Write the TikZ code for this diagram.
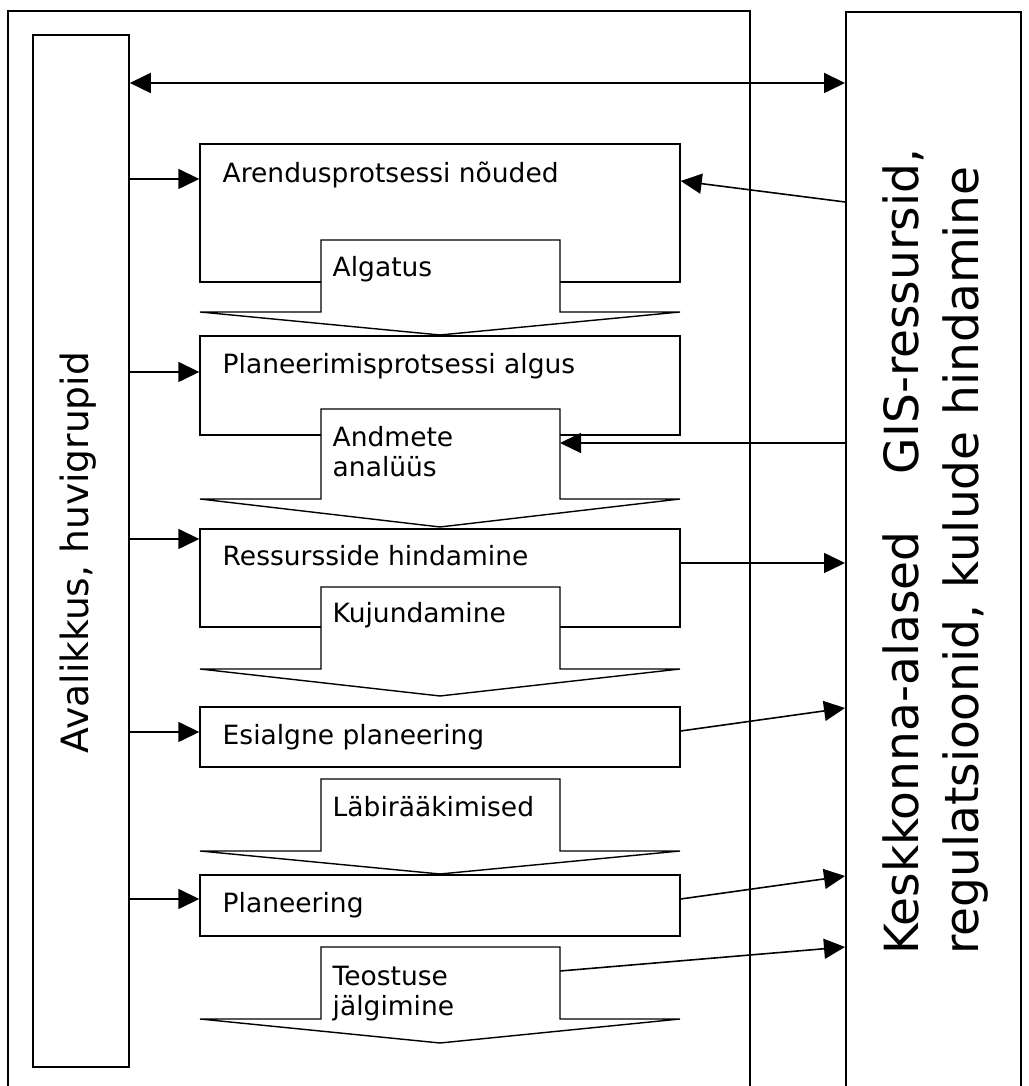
\documentclass[tikz,border=0pt]{standalone}
\usepackage{fontspec}
\setmainfont{DejaVu Sans}
\usetikzlibrary{arrows.meta}

\begin{document}
\begin{tikzpicture}[
  every node/.style={font=\fontsize{7.54}{8.8}\selectfont},
  framebox/.style={draw=black,line width=0.45pt},
  sidebox/.style={rectangle,draw=black,line width=0.45pt,fill=white,inner sep=0pt},
  procbox/.style={rectangle,draw=black,line width=0.4pt,fill=white,minimum width=4.8cm,inner sep=0pt},
  stepshape/.style={draw=black,line width=0.4pt,fill=white},
  boxtext/.style={anchor=base west,inner sep=0pt,align=left},
  fwdarrow/.style={-{Triangle[length=0.21cm,width=0.2cm]},line width=0.45pt},
  botharrow/.style={{Triangle[length=0.21cm,width=0.2cm]}-{Triangle[length=0.21cm,width=0.2cm]},line width=0.5pt},
]

% ---------- Page ----------
\clip (0,0) rectangle (10.29,10.86);

% ---------- Frames ----------
\draw[framebox] (0.08,-0.5) rectangle (7.50,10.75);
\node[sidebox,anchor=north west,minimum width=1.75cm,minimum height=11.2cm] (env) at (8.45,10.75) {};
\node[sidebox,minimum width=0.96cm,minimum height=10.32cm] (pub) at (0.81,5.35) {};

\node[inner sep=0pt,rotate=90,font=\fontsize{10.7}{13}\selectfont] (pubtext) at (0.78,5.335) {Avalikkus, huvigrupid};
\node[inner sep=0pt,rotate=90,text width=8.06cm,align=left,font=\fontsize{13.4}{17}\selectfont] (envtext) at (9.356,5.34)
  {Keskkonna-alased\hfill GIS-ressursid,\\regulatsioonid, kulude hindamine};

% ---------- Process boxes ----------
\node[procbox,minimum height=1.38cm] (b1) at (4.40,8.73) {};
\node[procbox,minimum height=0.99cm] (b2) at (4.40,7.005) {};
\node[procbox,minimum height=0.98cm] (b3) at (4.40,5.08) {};
\node[procbox,minimum height=0.60cm] (b4) at (4.40,3.49) {};
\node[procbox,minimum height=0.61cm] (b5) at (4.40,1.805) {};

% ---------- Step arrows ----------
\foreach \ytop/\ybot/\ytip in {8.46/7.74/7.51, 6.77/5.87/5.59, 4.99/4.17/3.90, 3.07/2.35/2.12, 1.39/0.67/0.43}
  \draw[stepshape] (3.21,\ytop) -- (5.60,\ytop) -- (5.60,\ybot) -- (6.80,\ybot) -- (4.40,\ytip) -- (2.00,\ybot) -- (3.21,\ybot) -- cycle;

% ---------- Texts ----------
\node[boxtext] (t1) at (2.22,9.03) {Arendusprotsessi nõuded};
\node[boxtext] (s1) at (3.32,8.09) {Algatus};
\node[boxtext] (t2) at (2.22,7.12) {Planeerimisprotsessi algus};
\node[boxtext] (s2) at (3.32,6.09) {Andmete\\analüüs};
\node[boxtext] (t3) at (2.22,5.20) {Ressursside hindamine};
\node[boxtext] (s3) at (3.32,4.63) {Kujundamine};
\node[boxtext] (t4) at (2.22,3.41) {Esialgne planeering};
\node[boxtext] (s4) at (3.32,2.69) {Läbirääkimised};
\node[boxtext] (t5) at (2.22,1.73) {Planeering};
\node[boxtext] (s5) at (3.32,0.70) {Teostuse\\jälgimine};

% ---------- Arrows from the public ----------
\draw[botharrow] (pub.east |- 0,10.03) -- (env.west |- 0,10.03);
\foreach \n/\y in {b1/9.07, b2/7.14, b3/5.47, b4/3.54, b5/1.87}
  \draw[fwdarrow] (pub.east |- 0,\y) -- (\n.west |- 0,\y);

% ---------- Arrows to and from the resources ----------
\coordinate (s2e) at (5.60,6.43);
\coordinate (s5e) at (5.60,1.15);
\draw[fwdarrow] (env.west |- 0,8.84) -- (b1.east |- 0,9.05);
\draw[fwdarrow] (env.west |- 0,6.43) -- (s2e);
\draw[fwdarrow] (b3.east |- 0,5.23) -- (env.west |- 0,5.23);
\draw[fwdarrow] (b4.east |- 0,3.55) -- (env.west |- 0,3.78);
\draw[fwdarrow] (b5.east |- 0,1.87) -- (env.west |- 0,2.10);
\draw[fwdarrow] (s5e) -- (env.west |- 0,1.39);

\end{tikzpicture}
\end{document}
